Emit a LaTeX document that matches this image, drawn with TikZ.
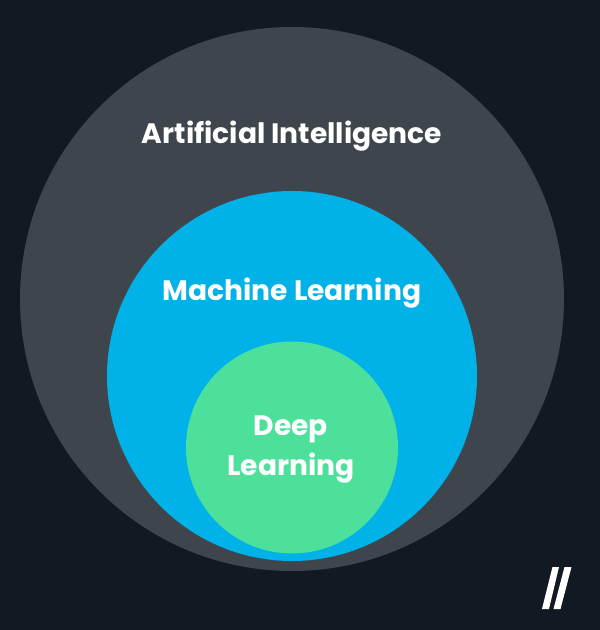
\documentclass[tikz,border=0pt]{standalone}
\usepackage{fontspec}
\setmainfont{Poppins}
\usepackage{xcolor}
\definecolor{bgdark}{HTML}{111922}
\definecolor{aigrey}{HTML}{3E454D}
\definecolor{mlblue}{HTML}{00B2E7}
\definecolor{dlgreen}{HTML}{4DE09B}

\begin{document}
\begin{tikzpicture}[every node/.style={font=\fontsize{16}{22.7}\selectfont\bfseries}]
\tikzstyle{field}=[circle, inner sep=0pt]
\tikzstyle{caption}=[text=white, align=center]
\useasboundingbox (0,0) rectangle (12,12.6);
\fill[bgdark] (0,0) rectangle (12,12.6);
\node[field, fill=aigrey, minimum size=10.88cm] (ai) at (5.84,6.62) {};
\node[field, fill=mlblue, minimum size=7.40cm] (ml) at (5.84,5.08) {};
\node[field, fill=dlgreen, minimum size=4.24cm] (dl) at (5.84,3.65) {};
\node[caption] (ailabel) at (5.84,9.87) {Artificial Intelligence};
\node[caption] (mllabel) at (5.84,6.73) {Machine Learning};
\node[caption] (dllabel) at (5.82,3.61) {Deep\\Learning};
% logo
\fill[white] (10.84,0.42) -- (10.98,0.42) -- (11.18,1.26) -- (11.05,1.26) -- cycle;
\fill[white] (11.07,0.42) -- (11.21,0.42) -- (11.43,1.26) -- (11.29,1.26) -- cycle;
\end{tikzpicture}
\end{document}
